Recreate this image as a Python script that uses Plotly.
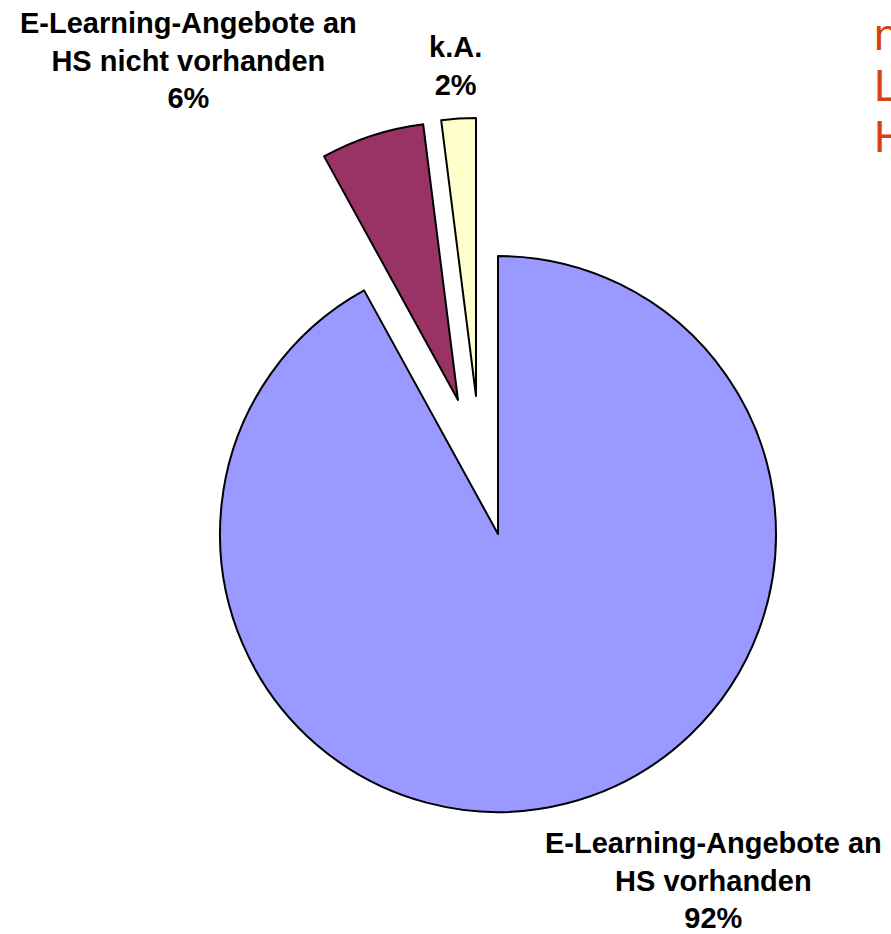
import plotly.graph_objects as go

# ---- data ----
labels = ["E-Learning-Angebote an HS vorhanden",
          "E-Learning-Angebote an HS nicht vorhanden",
          "k.A."]
label_lines = [["E-Learning-Angebote an", "HS vorhanden"],
               ["E-Learning-Angebote an", "HS nicht vorhanden"],
               ["k.A."]]
values = [92, 6, 2]
colors = ["#9999FF", "#993366", "#FFFFCC"]
side_text = ["n", "L", "H"]

# ---- layout constants ----
W, H = 891, 934
R = 278
# pixel centres of each slice's (exploded) pie
centres = [(498, 534), (458, 400), (476, 396)]
label_pos = [(713, 880), (188, 60), (455, 66)]

fig = go.Figure()
for i, (cx, cy) in enumerate(centres):
    fc = [c if j == i else "rgba(0,0,0,0)" for j, c in enumerate(colors)]
    lc = ["#000000" if j == i else "rgba(0,0,0,0)" for j in range(len(values))]
    fig.add_trace(go.Pie(
        labels=labels, values=values, sort=False, direction="clockwise",
        rotation=0, textinfo="none", hoverinfo="label+percent",
        marker=dict(colors=fc, line=dict(color=lc, width=2)),
        domain=dict(x=[(cx - R) / W, (cx + R) / W],
                    y=[1 - (cy + R) / H, 1 - (cy - R) / H]),
        showlegend=False,
    ))

total = sum(values)
for i, (lx, ly) in enumerate(label_pos):
    pct = round(100 * values[i] / total)
    txt = "<br>".join(label_lines[i] + [f"{pct}%"])
    fig.add_annotation(x=lx / W, y=1 - ly / H, xref="paper", yref="paper",
                       text=txt, showarrow=False, xanchor="center", yanchor="middle",
                       font=dict(family="Liberation Sans", size=29, color="#000000",
                                 weight="bold"))

for k, t in enumerate(side_text):
    base = 50 + 51 * k
    fig.add_annotation(x=872 / W, y=1 - (base - 15.2) / H, xref="paper", yref="paper",
                       text=t, showarrow=False, xanchor="left", yanchor="middle",
                       font=dict(family="Liberation Sans", size=44, color="#D4420E"))

fig.update_layout(width=W, height=H, margin=dict(l=0, r=0, t=0, b=0),
                  paper_bgcolor="white", plot_bgcolor="white")
fig.write_html("out.html", config={"displayModeBar": False},
               post_script="document.body.style.margin='0';")
